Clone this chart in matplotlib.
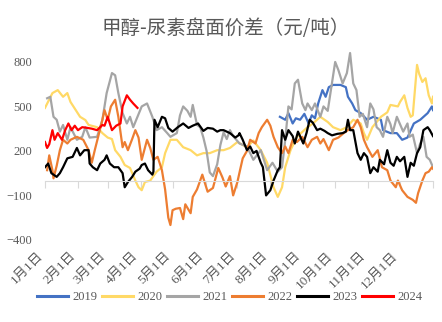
import matplotlib
matplotlib.use("Agg")
import matplotlib.pyplot as plt

# ---- data (x = day of year, y = spread 元/吨) ----
d2019 = [221, 226, 229, 233, 236, 240, 244, 248, 251, 254, 257, 261, 264, 267, 271, 278, 283, 285, 289, 292,
         297, 303, 309, 316, 318, 325, 331, 336, 341, 347, 353, 360, 364, 365]
v2019 = [430, 410, 455, 385, 420, 410, 450, 385, 440, 420, 520, 610, 565, 630, 645, 645, 630, 565, 520, 475,
         455, 410, 430, 410, 340, 320, 320, 275, 290, 385, 410, 455, 500, 475]

d2020 = [0, 7, 12, 17, 21, 24, 33, 38, 41, 49, 54, 59, 63, 66, 71, 75, 80, 85, 88, 91, 94, 99, 105, 110, 113,
         118, 124, 130, 137, 143, 149, 155, 162, 168, 174, 181, 186, 190, 196, 203, 209, 215, 219, 223, 226,
         231, 237, 247, 252, 259, 266, 271, 278, 284, 290, 297, 300, 303, 308, 316, 322, 325, 332, 334, 338,
         341, 344, 346, 350, 352, 355, 358, 361, 364, 365]
v2020 = [490, 590, 610, 565, 590, 530, 430, 408, 375, 360, 320, 290, 280, 205, 160, 105, 85, 0, -45, -65, -10,
         0, 60, 90, 185, 275, 275, 225, 205, 170, 185, 185, 205, 205, 220, 260, 240, 225, 270, 205, 120, -45,
         -110, -45, 90, 205, 295, 360, 385, 430, 395, 360, 340, 360, 410, 385, 320, 275, 360, 430, 460, 510,
         500, 530, 575, 490, 430, 440, 780, 720, 665, 690, 575, 520, 565]

d2021 = [2, 5, 8, 11, 14, 17, 21, 24, 30, 35, 38, 42, 49, 54, 58, 63, 66, 69, 73, 77, 80, 83, 91, 96, 101,
         105, 110, 115, 118, 124, 127, 130, 134, 137, 139, 143, 146, 149, 152, 155, 158, 162, 165, 168, 171,
         174, 177, 183, 190, 196, 203, 209, 214, 219, 223, 226, 229, 232, 235, 238, 242, 245, 247, 251, 254,
         259, 262, 266, 268, 273, 276, 280, 284, 287, 290, 293, 296, 299, 303, 306, 309, 312, 315, 318, 322,
         325, 327, 331, 334, 337, 341, 343, 346, 350, 353, 356, 359, 362, 365]
v2021 = [555, 565, 430, 410, 330, 375, 275, 360, 275, 295, 360, 290, 295, 410, 590, 725, 710, 590, 455, 385,
         430, 360, 500, 520, 430, 340, 360, 320, 295, 320, 440, 500, 470, 430, 510, 375, 360, 290, 200, 55,
         30, 110, 240, 325, 280, 340, 300, 250, 230, 140, 205, 70, 120, 60, 90, 275, 500, 480, 655, 680, 520,
         475, 520, 475, 520, 430, 500, 470, 565, 800, 745, 655, 725, 860, 655, 610, 430, 450, 360, 520, 480,
         360, 340, 295, 430, 380, 320, 430, 380, 330, 385, 295, 310, 185, 250, 295, 160, 140, 90]

d2022 = [2, 4, 7, 8, 11, 14, 17, 21, 24, 30, 36, 41, 44, 47, 50, 54, 56, 59, 62, 66, 69, 73, 75, 78, 82, 85,
         88, 91, 96, 99, 102, 106, 110, 113, 116, 118, 120, 123, 127, 130, 132, 137, 139, 143, 146, 148, 151,
         153, 158, 163, 167, 170, 174, 177, 181, 183, 186, 190, 193, 198, 201, 204, 209, 212, 215, 219, 223,
         226, 229, 233, 237, 242, 247, 251, 256, 259, 262, 267, 271, 276, 281, 285, 290, 294, 297, 300, 303,
         308, 313, 317, 322, 325, 330, 332, 336, 341, 346, 349, 351, 355, 358, 361, 364, 365]
v2022 = [70, 170, 70, 15, 100, 205, 275, 250, 275, 295, 275, 205, 120, 210, 295, 410, 475, 410, 500, 545, 430,
         225, 260, 205, 280, 340, 290, 140, 275, 220, 140, 160, 70, -60, -250, -300, -200, -190, -185, -260,
         -160, -220, -110, -60, 0, 40, -30, -75, -50, 85, 20, -40, 30, -100, -10, 55, 150, 200, 275, 250, 320,
         360, 410, 370, 295, 225, 185, 230, 185, 275, 260, 295, 225, 275, 295, 250, 280, 205, 275, 290, 320,
         340, 360, 410, 360, 275, 225, 160, 205, 90, 70, 0, -45, 0, -65, -110, -130, -150, -85, 0, 50, 60,
         90, 80]

d2023 = [0, 3, 6, 8, 11, 14, 17, 21, 26, 30, 33, 37, 41, 42, 45, 49, 52, 56, 58, 61, 65, 69, 73, 75, 78, 82,
         85, 89, 91, 94, 97, 101, 102, 103, 106, 110, 113, 116, 120, 125, 130, 135, 139, 144, 149, 153, 158,
         162, 165, 168, 171, 174, 179, 182, 183, 186, 190, 193, 196, 199, 203, 205, 208, 212, 215, 219, 221,
         223, 226, 229, 233, 235, 238, 243, 246, 249, 252, 256, 259, 263, 266, 270, 275, 280, 283, 285, 287,
         290, 294, 297, 300, 303, 306, 309, 313, 315, 319, 322, 325, 328, 331, 334, 338, 341, 344, 347, 350,
         353, 356, 360, 362, 365]
v2023 = [90, 115, 50, 40, 25, 50, 90, 150, 160, 220, 170, 205, 205, 115, 90, 70, 115, 140, 170, 115, 90, 90,
         50, -45, -10, 25, 60, 80, 105, 115, 70, 40, 60, 410, 360, 430, 420, 355, 330, 360, 385, 355, 370, 385,
         335, 355, 350, 330, 340, 340, 330, 320, 290, 305, 320, 275, 205, 230, 185, 200, 120, 90, -100, -65,
         0, 70, 90, 340, 275, 340, 300, 250, 330, 250, 320, 410, 390, 340, 350, 335, 320, 305, 315, 320, 330,
         410, 340, 340, 185, 140, 185, 160, 50, 90, 60, 140, 110, 205, 120, 100, 160, 130, 160, 25, 120, 100,
         185, 225, 340, 360, 340, 300]

d2024 = [0, 2, 4, 7, 9, 12, 16, 19, 22, 25, 28, 31, 35, 40, 44, 49, 54, 56, 59, 63, 67, 71, 73, 77, 80, 83, 87]
v2024 = [260, 220, 245, 340, 275, 320, 275, 340, 385, 340, 370, 340, 360, 355, 350, 340, 375, 370, 430, 340,
         370, 385, 500, 575, 545, 520, 490]

years = ["2019", "2020", "2021", "2022", "2023", "2024"]
colors = ["#4472C4", "#FFD966", "#A5A5A5", "#ED7D31", "#000000", "#FF0000"]
series = [(d2019, v2019), (d2020, v2020), (d2021, v2021), (d2022, v2022), (d2023, v2023), (d2024, v2024)]

month_ticks = [0, 31, 59, 90, 120, 151, 181, 212, 243, 273, 304, 334, 365]
month_labels = [f"{m}月1日" for m in range(1, 13)] + [""]
y_ticks = [-400, -100, 200, 500, 800]

title = "甲醇-尿素盘面价差（元/吨）"

# ---- figure ----
txt = "#595959"
fig = plt.figure(figsize=(4.42, 3.22), dpi=100)
ax = fig.add_axes([0.1018, 0.2550, 0.8778, 0.5987])

for (d, v), yr, c in zip(series, years, colors):
    ax.plot(d, v, color=c, lw=1.6, label=yr, solid_joinstyle="round")

ax.set_xlim(0, 365)
ax.set_ylim(-400, 900)

for s in ["top", "right", "left"]:
    ax.spines[s].set_visible(False)
ax.spines["bottom"].set_position(("data", 0))
ax.spines["bottom"].set_color("#D9D9D9")
ax.set_xticks(month_ticks)
ax.tick_params(axis="x", length=5, color="#D9D9D9", labelbottom=False)

ax.set_yticks(y_ticks)
ax.tick_params(axis="y", length=0, pad=9, labelcolor=txt)
for lab in ax.get_yticklabels():
    lab.set_fontfamily("Liberation Serif")
    lab.set_fontsize(9)

sec = ax.secondary_xaxis(0.0)
sec.set_xticks(month_ticks)
sec.set_xticklabels(month_labels, rotation=45, ha="right", fontsize=9.5,
                    family=["Liberation Serif", "Noto Sans CJK SC"], color=txt)
sec.tick_params(axis="x", length=0, pad=7)
sec.spines["bottom"].set_visible(False)

t = fig.text(0.51, 0.912, title, ha="center", va="center", fontsize=14,
             family=["Noto Sans CJK SC", "DejaVu Sans"], color=txt, fontweight="light")

leg = fig.legend(loc="center", bbox_to_anchor=(0.52, 0.078), ncol=6, frameon=False,
                 handlelength=2.5, handletextpad=0.35, columnspacing=0.35,
                 prop={"family": "Liberation Serif", "size": 9})
for tx in leg.get_texts():
    tx.set_color(txt)
for h in leg.get_lines():
    h.set_linewidth(2.2)

fig.savefig("out.png", dpi=100)
